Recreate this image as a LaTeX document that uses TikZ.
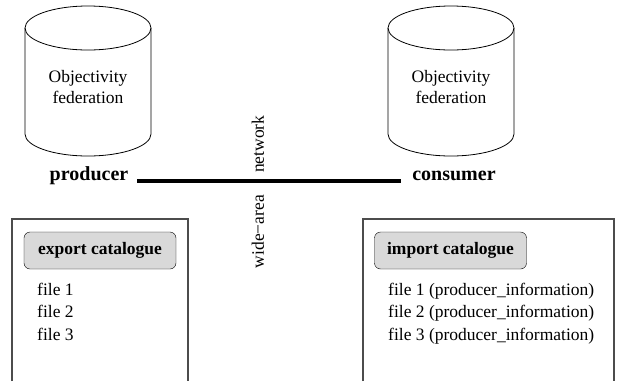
\documentclass[tikz,border=0pt]{standalone}
\usepackage{fontspec}
\setmainfont{Liberation Serif}
\usetikzlibrary{positioning}
\begin{document}
\begin{tikzpicture}[x=1pt,y=-1pt,
  txt/.style={font=\fontsize{17.5}{21}\selectfont,inner sep=0pt},
  site/.style={font=\fontsize{20}{24}\selectfont\bfseries,inner sep=0pt},
  catbox/.style={draw=black!70,line width=1.2pt},
  cathead/.style={draw,fill=black!15,rounded corners=6pt,minimum width=152pt,minimum height=37pt,inner sep=0pt,font=\fontsize{17.5}{21}\selectfont\bfseries},
  netline/.style={line width=4pt}]
  \useasboundingbox (0,0) rectangle (622,381);
  \foreach \cx/\nm in {88/fedprod,451/fedcons}{
    \draw[thick] (\cx-63,28) -- (\cx-63,134) arc[start angle=180,end angle=360,x radius=63pt,y radius=22pt] -- (\cx+63,28);
    \draw[thick] (\cx,28) ellipse[x radius=63pt,y radius=22pt];
    \node[txt,align=center] (\nm) at (\cx,87.5) {Objectivity\\federation};
  }
  \node[site,anchor=base] (producer) at (89,180) {producer};
  \node[site,anchor=base] (consumer) at (454,180) {consumer};
  \coordinate (netL) at (137,181);
  \coordinate (netR) at (401,181);
  \draw[netline] (netL) -- (netR);
  \node[txt,rotate=90,anchor=west] (netup) at (258,173) {network};
  \node[txt,rotate=90,anchor=east] (netdown) at (258,195) {wide−area};
  \draw[catbox] (12,381) |- (188,219) -- (188,381);
  \draw[catbox] (363,381) |- (614,219) -- (614,381);
  \node[cathead] (expcat) at (100,250.5) {export catalogue};
  \node[cathead] (impcat) at (450.5,250.5) {import catalogue};
  \foreach \i in {1,2,3}{
    \node[txt,anchor=base west] (expfile\i) at (37,{295+22.5*(\i-1)}) {file \i};
    \node[txt,anchor=base west] (impfile\i) at (388,{295+22.5*(\i-1)}) {file \i\ (producer\_information)};
  }
\end{tikzpicture}
\end{document}
